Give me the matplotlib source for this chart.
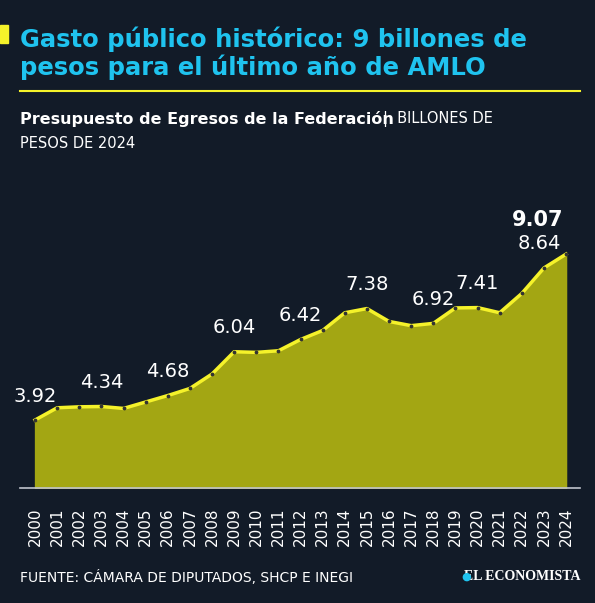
import matplotlib.pyplot as plt
from matplotlib.patches import Rectangle

years = list(range(2000, 2025))
values = [3.92, 4.30, 4.33, 4.34, 4.28, 4.48, 4.68, 4.90, 5.35, 6.04, 6.02, 6.07,
          6.42, 6.70, 7.25, 7.38, 6.98, 6.85, 6.92, 7.40, 7.41, 7.25, 7.85, 8.64, 9.07]
labeled = {2000: "3.92", 2003: "4.34", 2006: "4.68", 2009: "6.04", 2012: "6.42",
           2015: "7.38", 2018: "6.92", 2020: "7.41"}

bg = "#121b28"
fig = plt.figure(figsize=(5.95, 6.03), dpi=100, facecolor=bg)
ax = fig.add_axes([20/595, 1 - 488/603, 560/595, (488 - 200)/603])
ax.set_facecolor(bg)
ax.fill_between(years, values, 0, color="#a3a613", zorder=1)
ax.plot(years, values, color="#f5f22a", lw=2.5, zorder=2)
ax.scatter(years, values, s=3, color="#333333", zorder=3)
for y, v in zip(years, values):
    if y in labeled:
        ax.text(y, v + 0.45, labeled[y], color="white", fontsize=14, ha="center", va="bottom")
ax.text(2022.8, 8.64 + 0.45, "8.64", color="white", fontsize=14, ha="center", va="bottom")
ax.text(2023.9, 9.07 + 0.75, "9.07", color="white", fontsize=15, fontweight="bold",
        ha="right", va="bottom")
ax.set_xlim(1999.32, 2024.63)
ax.set_ylim(1.81, 10.75)
ax.set_yticks([])
ax.set_xticks(years)
ax.set_xticklabels([str(y) for y in years], rotation=90, color="white", fontsize=11)
ax.tick_params(axis="x", length=0, pad=14)
for s in ["top", "right", "left"]:
    ax.spines[s].set_visible(False)
ax.spines["bottom"].set_color("#c0c4cc")
ax.spines["bottom"].set_linewidth(1.2)

fig.patches.append(Rectangle((0, 1 - 43/603), 8/595, 18/603, transform=fig.transFigure,
                             color="#f5f22a"))
fig.text(20/595, 1 - 53/603, "Gasto público histórico: 9 billones de\npesos para el último año de AMLO",
         color="#1fc3ef", fontsize=17.5, fontweight="bold", va="center", linespacing=1.1)
fig.lines.append(plt.Line2D([20/595, 580/595], [1 - 91/603] * 2, transform=fig.transFigure,
                            color="#f5f22a", lw=1.5))
fig.text(20/595, 1 - 119/603, "Presupuesto de Egresos de la Federación", color="white",
         fontsize=11.5, fontweight="bold", va="center")
fig.text(383/595, 1 - 119/603, "|  BILLONES DE", color="white", fontsize=10.5, va="center")
fig.text(20/595, 1 - 143/603, "PESOS DE 2024", color="white", fontsize=10.5, va="center")
fig.text(20/595, 1 - 577/603, "FUENTE: CÁMARA DE DIPUTADOS, SHCP E INEGI", color="white",
         fontsize=10, va="center")
fig.text(580/595, 1 - 577/603, "EL ECONOMISTA", color="white", fontsize=10,
         family="Liberation Serif", fontweight="bold", ha="right", va="center")
fig.text(466/595, 1 - 577/603, "●", color="#1fc3ef", fontsize=8, ha="center", va="center")

fig.savefig("out.png", dpi=100, facecolor=bg)
